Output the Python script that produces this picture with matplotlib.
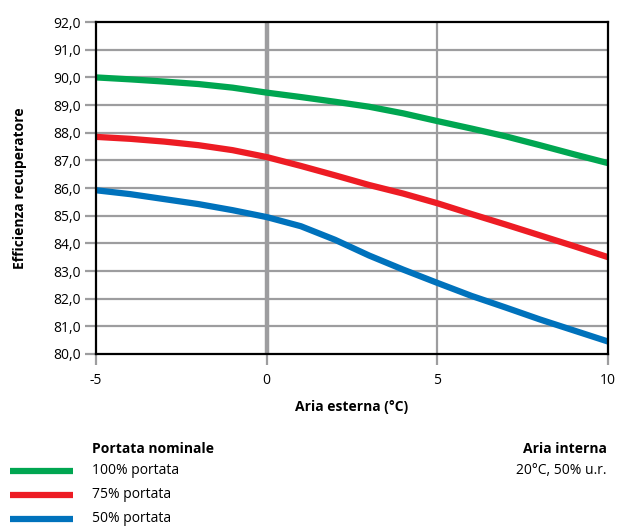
import matplotlib.pyplot as plt
from matplotlib.lines import Line2D
import numpy as np

plt.rcParams['font.family'] = ['Open Sans', 'DejaVu Sans']

temp = [-5, -4, -3, -2, -1, 0, 1, 2, 3, 4, 5, 6, 7, 8, 9, 10]
eff_100 = [90.0, 89.93, 89.85, 89.76, 89.63, 89.45, 89.29, 89.12, 88.94, 88.7, 88.42,
           88.15, 87.87, 87.55, 87.22, 86.9]
eff_75 = [87.85, 87.78, 87.68, 87.55, 87.37, 87.12, 86.8, 86.46, 86.11, 85.8, 85.45,
          85.06, 84.68, 84.29, 83.9, 83.5]
eff_50 = [85.92, 85.78, 85.6, 85.42, 85.2, 84.95, 84.62, 84.13, 83.56, 83.05, 82.57,
          82.1, 81.68, 81.25, 80.85, 80.45]

labels = ['100% portata', '75% portata', '50% portata']
colors = ['#00a651', '#ed1c24', '#0072bc']
series = [eff_100, eff_75, eff_50]

fig = plt.figure(figsize=(6.17, 5.26), dpi=100)
ax = fig.add_axes([0.1556, 0.327, 0.83, 0.631])

grid_c = '#9d9d9f'
yticks = np.arange(80, 92.01, 1.0)
for yv in yticks[1:-1]:
    ax.axhline(yv, color=grid_c, lw=1.6, zorder=1)
ax.axvline(0, color=grid_c, lw=3.2, zorder=1)
ax.axvline(5, color=grid_c, lw=1.6, zorder=1)

for y, c in zip(series, colors):
    ax.plot(temp, y, color=c, lw=4.5, solid_capstyle='butt', solid_joinstyle='round',
            zorder=3)

ax.set_xlim(-5, 10)
ax.set_ylim(80, 92)
ax.set_xticks([-5, 0, 5, 10])
ax.set_xticklabels(['-5', '0', '5', '10'])
ax.set_yticks(yticks)
ax.set_yticklabels([f'{v:.1f}'.replace('.', ',') for v in yticks])
ax.tick_params(axis='y', length=8, width=1.6, color=grid_c, labelsize=10, pad=3)
ax.tick_params(axis='x', length=8, width=1.6, color=grid_c, labelsize=10, pad=6)
for s in ax.spines.values():
    s.set_linewidth(1.6)
    s.set_color('black')
    s.set_zorder(4)

ax.set_xlabel('Aria esterna (°C)', fontweight='bold', fontsize=10, labelpad=8)
ax.set_ylabel('Efficienza recuperatore', fontweight='bold', fontsize=10, labelpad=19)

# legenda in basso
fig.text(92 / 617, 1 - 449 / 526, 'Portata nominale', fontweight='bold', fontsize=10,
         ha='left', va='center')
for i, (lab, c) in enumerate(zip(labels, colors)):
    yy = 1 - (471 + 24 * i) / 526
    fig.add_artist(Line2D([10 / 617, 73 / 617], [yy, yy], color=c, lw=4.5,
                          solid_capstyle='butt'))
    fig.text(92 / 617, yy, lab, fontsize=10, ha='left', va='center')

fig.text(607 / 617, 1 - 449 / 526, 'Aria interna', fontweight='bold', fontsize=10,
         ha='right', va='center')
fig.text(607 / 617, 1 - 471 / 526, '20°C, 50% u.r.', fontsize=10, ha='right', va='center')

fig.savefig('out.png', dpi=100)
